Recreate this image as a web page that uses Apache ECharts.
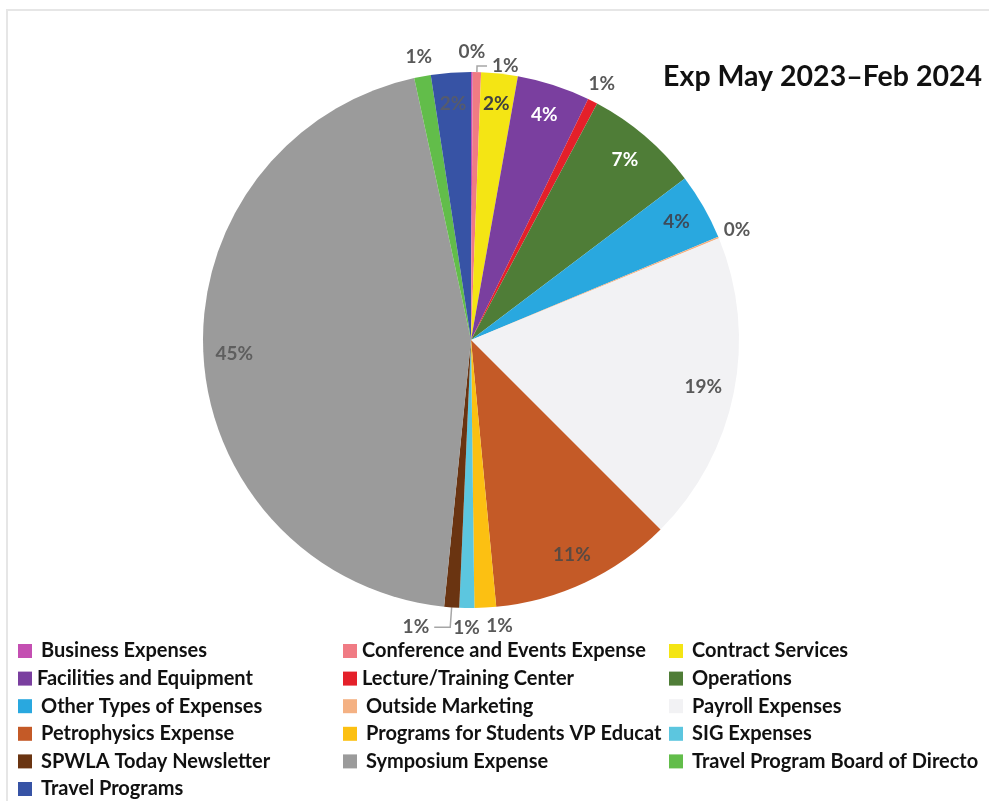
<!DOCTYPE html>
<html>
<head>
<meta charset="utf-8">
<script src="https://cdn.jsdelivr.net/npm/echarts@6/dist/echarts.min.js"></script>
<style>
  html, body { margin: 0; padding: 0; background: #fff; }
  #frame { position: absolute; left: 6px; top: 9px; width: 983px; height: 792px;
           border-top: 2px solid #e6e6e6; border-left: 2px solid #e6e6e6; }
  #chart { position: absolute; left: 0; top: 0; width: 989px; height: 801px; }
</style>
</head>
<body>
<div id="frame"></div>
<div id="chart"></div>
<script>
// share of expenses, percent
var categories = [
  "Business Expenses",
  "Conference and Events Expense",
  "Contract Services",
  "Facilities and Equipment",
  "Lecture/Training Center",
  "Operations",
  "Other Types of Expenses",
  "Outside Marketing",
  "Payroll Expenses",
  "Petrophysics Expense",
  "Programs for Students VP Educat",
  "SIG Expenses",
  "SPWLA Today Newsletter",
  "Symposium Expense",
  "Travel Program Board of Directo",
  "Travel Programs"
];
var shares = [0.1, 0.5, 2.2, 4.4, 0.6, 6.9, 4.0, 0.1, 18.7, 11.0, 1.3, 0.9, 0.9, 45.0, 1.0, 2.4];
var colors = [
  "#c44fb2", "#f07b84", "#f4e514", "#7a3f9f", "#e4202a", "#4f7d37",
  "#29a8df", "#f4b183", "#f2f2f4", "#c45a27", "#fcc012", "#5cc6df",
  "#6a3411", "#9b9b9b", "#62bd4a", "#3753a5"
];
// colour of the percent text printed inside each big slice
var insideText = {
  "Contract Services": "#404040",
  "Facilities and Equipment": "#ffffff",
  "Operations": "#ffffff",
  "Other Types of Expenses": "#3d4b5a",
  "Payroll Expenses": "#595959",
  "Petrophysics Expense": "#5a4a42",
  "Symposium Expense": "#5e5e5e",
  "Travel Programs": "#555b6e"
};
// small slices whose label is pushed off to the side: [length, length2, show line]
var sideLabel = {
  "Conference and Events Expense": [6, 10, true],
  "Programs for Students VP Educat": [18, 0, false],
  "SPWLA Today Newsletter": [20, 16, true]
};
// legend entries that sit tight against their swatch
var tightLegend = ["Conference and Events Expense", "Facilities and Equipment", "Lecture/Training Center"];

var legendCols = [
  [0, 3, 6, 9, 12, 15],
  [1, 4, 7, 10, 13],
  [2, 5, 8, 11, 14]
];

var font = "Lato";
var fmt = function (p) { return Math.round(p.value) + "%"; };
var labelFont = { fontFamily: font, fontWeight: "bold", fontSize: 19 };

// slices themselves + the pushed-aside labels
var mainData = categories.map(function (name, i) {
  var side = sideLabel[name];
  return {
    name: name,
    value: shares[i],
    itemStyle: { color: colors[i] },
    label: side ? { show: true, distanceToLabelLine: side[2] ? 5 : 0 } : { show: false },
    labelLine: side ? { show: side[2], length: side[0], length2: side[1] } : { show: false }
  };
});

// labels inside the big slices
var innerData = categories.map(function (name, i) {
  return {
    name: name,
    value: shares[i],
    label: { show: !!insideText[name], color: insideText[name] || "#595959" }
  };
});

// labels just outside the other small slices
var outerData = categories.map(function (name, i) {
  return {
    name: name,
    value: shares[i],
    label: { show: !insideText[name] && !sideLabel[name] }
  };
});

var legendX = [18, 343, 669];
var legends = legendCols.map(function (col, k) {
  return {
    orient: "vertical",
    left: legendX[k],
    top: 641,
    height: 165,
    padding: 0,
    itemWidth: 14,
    itemHeight: 14,
    itemGap: 7.6,
    icon: "rect",
    selectedMode: false,
    data: col.map(function (i) {
      var name = categories[i];
      return tightLegend.indexOf(name) >= 0
        ? { name: name, textStyle: { padding: [0, 0, 0, 0] } }
        : name;
    }),
    textStyle: { fontFamily: font, fontWeight: "bold", fontSize: 20, color: "#111", lineHeight: 20, padding: [0, 0, 0, 4] }
  };
});

var ringBase = {
  type: "pie",
  center: [471, 340],
  startAngle: 90,
  clockwise: true,
  silent: true,
  avoidLabelOverlap: false,
  legendHoverLink: false,
  itemStyle: { color: "rgba(0,0,0,0)" },
  labelLine: { show: false }
};

var chart = echarts.init(document.getElementById("chart"));
chart.setOption({
  animation: false,
  color: colors,
  title: {
    text: "Exp May 2023\u2013Feb 2024",
    right: 2,
    top: 57,
    textStyle: { fontFamily: font, fontWeight: "bold", fontSize: 28.5, color: "#111" }
  },
  legend: legends,
  series: [
    {
      type: "pie",
      center: [471, 340],
      radius: 268,
      startAngle: 90,
      clockwise: true,
      avoidLabelOverlap: false,
      itemStyle: { borderWidth: 0 },
      label: Object.assign({ position: "outside", formatter: fmt, color: "#595959" }, labelFont),
      labelLine: { lineStyle: { color: "#a6a6a6", width: 1.5 } },
      data: mainData
    },
    Object.assign({}, ringBase, {
      radius: [200, 268],
      label: Object.assign({ position: "inside", formatter: fmt }, labelFont),
      data: innerData
    }),
    Object.assign({}, ringBase, {
      radius: [270, 300],
      label: Object.assign({ position: "inside", formatter: fmt, color: "#595959" }, labelFont),
      data: outerData
    })
  ]
});
</script>
</body>
</html>
